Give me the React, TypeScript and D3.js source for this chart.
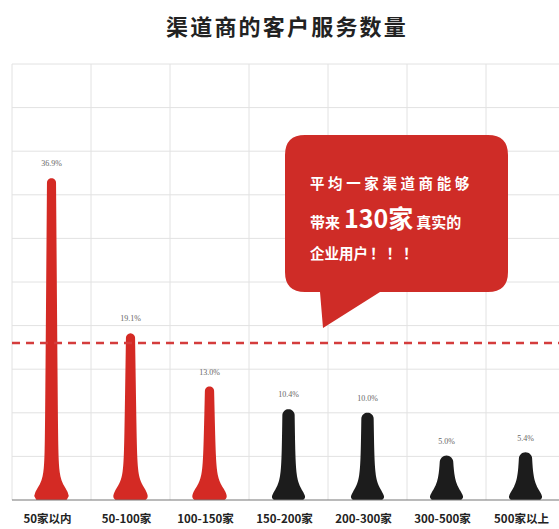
import React from "react";
import * as d3 from "d3";

const categories = ["50家以内", "50-100家", "100-150家", "150-200家", "200-300家", "300-500家", "500家以上"];
const values = [36.9, 19.1, 13.0, 10.4, 10.0, 5.0, 5.4];
const valueLabels = ["36.9%", "19.1%", "13.0%", "10.4%", "10.0%", "5.0%", "5.4%"];
const kinds = ["red", "red", "red", "black", "black", "black", "black"];
const averageValue = 18;
const yTicks = [0, 5, 10, 15, 20, 25, 30, 35, 40, 45, 50];
const title = "渠道商的客户服务数量";
const bubbleLine1 = "平均一家渠道商能够";
const bubbleLine2a = "带来";
const bubbleLine2b = "130家";
const bubbleLine2c = "真实的";
const bubbleLine3a = "企业用户";
const bubbleLine3b = "！！！";

const W = 559;
const H = 529;
const RED = "#d42a24";
const BLACK = "#1c1c1c";

const x = d3.scaleBand<string>().domain(categories).range([12, 565]).padding(0);
const y = d3.scaleLinear().domain([0, 50]).range([500, 64]);

function barPath(cx: number, yTop: number, yBase: number, kind: string): string {
  const h = yBase - yTop;
  const wTop = kind === "red" ? 4.5 : 6;
  const hw = (d: number) => {
    const t = Math.max(0, Math.min(1, d / h));
    const body = kind === "red" ? wTop + 2.5 * (1 - t) : wTop + 1 * (1 - t);
    const flare = kind === "red" ? 10.5 / (1 + Math.pow(d / 15, 3)) : 10 / (1 + Math.pow(d / 13, 2.5));
    let v = body + flare;
    if (d < 4) v -= (4 - d) * (4 - d) * 0.15;
    return v;
  };
  const dTop = h - wTop;
  const right: [number, number][] = [];
  const steps = 80;
  for (let i = 0; i <= steps; i++) {
    const d = dTop - (dTop * i) / steps;
    right.push([cx + hw(d), yBase - d]);
  }
  const left: [number, number][] = right.map(([px, py]) => [2 * cx - px, py] as [number, number]).reverse();
  const rTop = hw(dTop);
  const cap: [number, number][] = [];
  for (let i = 0; i <= 16; i++) {
    const a = Math.PI + (Math.PI * i) / 16;
    cap.push([cx + rTop * Math.cos(a), yBase - dTop + rTop * Math.sin(a)]);
  }
  const pts = [...left, ...cap.slice(1, -1), ...right];
  return (d3.line()(pts) || "") + "Z";
}

export default function App() {
  const bubble = { x0: 285, x1: 508, y0: 135, y1: 292, r: 20 };
  return (
    <svg width={W} height={H} style={{ position: "absolute", left: 0, top: 0, background: "#fff" }}
      fontFamily="'Noto Sans CJK SC', 'Noto Sans', sans-serif">
      <rect x={0} y={0} width={W} height={H} fill="#fff" />
      <text x={287} y={35} textAnchor="middle" fontSize={22} fontWeight={700} fill="#222" letterSpacing={2.2}>
        {title}
      </text>
      {/* grid */}
      <g stroke="#e2e2e2" strokeWidth={1}>
        {yTicks.slice(1).map((t) => (
          <line key={"h" + t} x1={12} x2={W} y1={y(t)} y2={y(t)} />
        ))}
        {categories.map((c) => (
          <line key={"v" + c} x1={x(c)!} x2={x(c)!} y1={y(50)} y2={y(0)} />
        ))}
        <line x1={x(categories[6])! + x.bandwidth()} x2={x(categories[6])! + x.bandwidth()} y1={y(50)} y2={y(0)} />
      </g>
      {/* bars */}
      {categories.map((c, i) => {
        const cx = x(c)! + x.bandwidth() / 2;
        return (
          <path key={"b" + c} d={barPath(cx, y(values[i]), y(0), kinds[i])} fill={kinds[i] === "red" ? RED : BLACK} />
        );
      })}
      {/* baseline */}
      <line x1={12} x2={W} y1={y(0)} y2={y(0)} stroke="#777" strokeWidth={1.2} />
      {/* value labels */}
      {categories.map((c, i) => {
        const cx = x(c)! + x.bandwidth() / 2;
        return (
          <text key={"v" + c} x={cx} y={y(values[i]) - 12} textAnchor="middle" fontSize={8}
            fontFamily="'Liberation Serif', serif" fill="#666">
            {valueLabels[i]}
          </text>
        );
      })}
      {/* category labels */}
      {categories.map((c) => {
        const cx = x(c)! + x.bandwidth() / 2 - 4;
        return (
          <text key={"c" + c} x={cx} y={523} textAnchor="middle" fontSize={11.5} fontWeight={700} fill="#222">
            {c}
          </text>
        );
      })}
      {/* average dashed line */}
      <line x1={12} x2={W} y1={y(averageValue)} y2={y(averageValue)} stroke="#d43c3c" strokeWidth={2.4}
        strokeDasharray="8 6" />
      {/* speech bubble */}
      <path
        d={`M${bubble.x0 + bubble.r},${bubble.y0} H${bubble.x1 - bubble.r} Q${bubble.x1},${bubble.y0} ${bubble.x1},${bubble.y0 + bubble.r}
           V${bubble.y1 - bubble.r} Q${bubble.x1},${bubble.y1} ${bubble.x1 - bubble.r},${bubble.y1}
           H380 L323,328 L320,${bubble.y1} H${bubble.x0 + bubble.r} Q${bubble.x0},${bubble.y1} ${bubble.x0},${bubble.y1 - bubble.r}
           V${bubble.y0 + bubble.r} Q${bubble.x0},${bubble.y0} ${bubble.x0 + bubble.r},${bubble.y0} Z`}
        fill="#cf2c27"
      />
      <g fill="#fff" fontWeight={700}>
        <text x={310} y={189} fontSize={14.5} letterSpacing={3.6}>{bubbleLine1}</text>
        <text x={310} y={228}>
          <tspan fontSize={15}>{bubbleLine2a}</tspan>
          <tspan fontSize={25} dx={4}>{bubbleLine2b}</tspan>
          <tspan fontSize={15} dx={3}>{bubbleLine2c}</tspan>
        </text>
        <text x={310} y={259} fontSize={14.5}>
          <tspan>{bubbleLine3a}</tspan>
          <tspan dx={2} letterSpacing={2}>{bubbleLine3b}</tspan>
        </text>
      </g>
    </svg>
  );
}
